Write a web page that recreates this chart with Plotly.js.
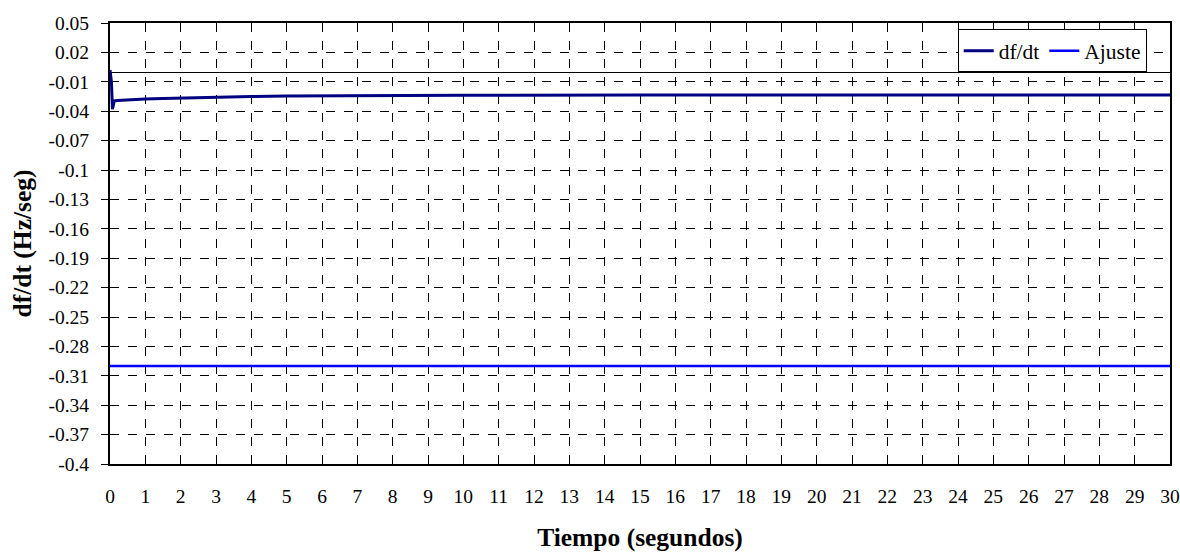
<!DOCTYPE html>
<html>
<head>
<meta charset="utf-8">
<script src="https://cdn.plot.ly/plotly-3.0.1.min.js"></script>
<style>html,body{margin:0;padding:0;background:#fff;}#chart{width:1180px;height:552px;}</style>
</head>
<body>
<div id="chart"></div>
<script>
const timeDf = [0, 0.04, 0.07, 0.12, 0.2, 0.4, 0.7, 1, 1.5, 2, 3, 4, 5, 7, 10, 15, 20, 25, 30];
const dfdt   = [0.002, -0.01, -0.038, -0.0295, -0.029, -0.0285, -0.028, -0.0275, -0.027, -0.0265, -0.0257, -0.025, -0.0245, -0.024, -0.0237, -0.0235, -0.0235, -0.0235, -0.0235];
const timeAj = [0, 30];
const ajuste = [-0.3, -0.3];
const yTickVals = [0.05, 0.02, -0.01, -0.04, -0.07, -0.1, -0.13, -0.16, -0.19, -0.22, -0.25, -0.28, -0.31, -0.34, -0.37, -0.4];
const yTickText = ["0.05","0.02","-0.01","-0.04","-0.07","-0.1","-0.13","-0.16","-0.19","-0.22","-0.25","-0.28","-0.31","-0.34","-0.37","-0.4"];
const xTickVals = Array.from({length: 31}, (_, i) => i);

const FAM = "Liberation Serif";
const f = (size) => ({family: FAM, size: size, color: "#000"});

const traces = [
  {x: timeDf, y: dfdt, type: "scatter", mode: "lines", name: "df/dt",
   line: {color: "#000080", width: 3}},
  {x: timeAj, y: ajuste, type: "scatter", mode: "lines", name: "Ajuste",
   line: {color: "#0000ff", width: 2.5}}
];

const layout = {
  width: 1180, height: 552,
  margin: {l: 110, r: 10, t: 23, b: 88},
  paper_bgcolor: "#fff", plot_bgcolor: "#fff",
  font: f(19.5),
  showlegend: true,
  legend: {orientation: "h", x: 0.978, xanchor: "right", y: 0.986, yanchor: "top",
           bgcolor: "#fff", bordercolor: "#000", borderwidth: 1,
           font: f(21.5), tracegroupgap: 0, itemwidth: 30},
  xaxis: {range: [0, 30], tickvals: xTickVals, ticks: "", ticklabelstandoff: 14,
          showgrid: true, gridcolor: "#000", griddash: "dash", gridwidth: 1,
          showline: true, linecolor: "#000", linewidth: 2, mirror: true,
          zeroline: false, tickfont: f(19.5),
          title: {text: "<b>Tiempo (segundos)</b>", font: f(25.5), standoff: 22}},
  yaxis: {range: [-0.4, 0.05], tickvals: yTickVals, ticktext: yTickText,
          ticks: "outside", ticklen: 7, tickcolor: "#000",
          showgrid: true, gridcolor: "#000", griddash: "dash", gridwidth: 1,
          showline: true, linecolor: "#000", linewidth: 2, mirror: true,
          zeroline: true, zerolinecolor: "#000", zerolinewidth: 1,
          tickfont: f(19.5), ticklabelstandoff: 8,
          title: {text: "<b>df/dt (Hz/seg)</b>", font: f(25.5), standoff: 10}}
};

Plotly.newPlot("chart", traces, layout, {displayModeBar: false, staticPlot: true});
</script>
</body>
</html>
